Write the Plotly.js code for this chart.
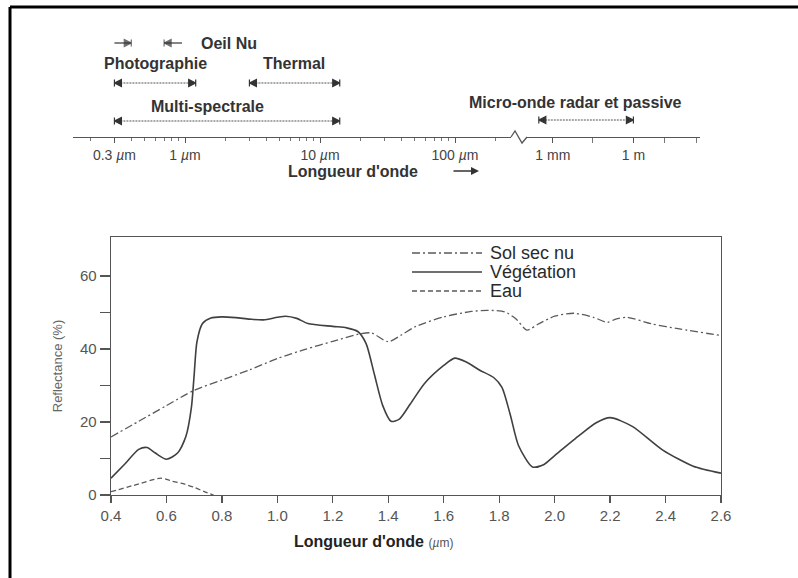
<!DOCTYPE html>
<html>
<head>
<meta charset="utf-8">
<script src="https://cdn.plot.ly/plotly-3.0.1.min.js"></script>
<style>html,body{margin:0;padding:0;background:#fff;}#chart{width:798px;height:578px;}</style>
</head>
<body>
<div id="chart"></div>
<script>
// ---------- data: reflectance spectra ----------
const soilWavelength = [0.40,0.50,0.60,0.70,0.80,0.90,1.00,1.10,1.20,1.30,1.34,1.40,1.45,1.50,1.60,1.70,1.76,1.82,1.86,1.90,1.94,2.00,2.07,2.14,2.19,2.22,2.26,2.35,2.45,2.60];
const soilReflectance = [15.9,20.2,24.5,28.7,31.5,34.3,37.4,39.9,42.1,44.2,44.4,42.0,44.0,46.2,48.8,50.3,50.6,50.2,48.3,45.2,46.8,49.0,49.8,48.7,47.3,48.2,48.7,46.9,45.5,43.7];

const vegWavelength = [0.40,0.45,0.50,0.53,0.56,0.60,0.64,0.67,0.69,0.70,0.71,0.73,0.76,0.80,0.85,0.90,0.95,1.00,1.03,1.07,1.11,1.20,1.25,1.29,1.32,1.35,1.38,1.41,1.44,1.48,1.53,1.60,1.64,1.68,1.73,1.78,1.81,1.84,1.87,1.92,1.96,2.00,2.09,2.15,2.20,2.28,2.39,2.50,2.60];
const vegReflectance = [4.6,8.5,12.5,13.0,11.5,9.8,11.5,16.0,24.0,33.0,42.0,47.0,48.5,48.8,48.6,48.2,48.0,48.7,49.0,48.4,47.0,46.2,45.8,44.8,41.5,33.0,24.5,20.2,20.8,25.0,30.5,35.5,37.5,36.5,34.2,32.2,29.5,22.0,13.5,7.7,8.3,10.8,16.4,19.8,21.2,18.8,12.3,7.9,6.0];

const waterWavelength = [0.40,0.48,0.58,0.62,0.66,0.70,0.74,0.77];
const waterReflectance = [0.9,2.6,4.6,3.8,3.1,2.1,0.8,0.0];

const seriesNames = ['Sol sec nu','Végétation','Eau'];

// ---------- data: spectral domains (µm) ----------
const domainNames = ['Photographie','Thermal','Multi-spectrale','Micro-onde radar et passive'];
const domainStart = [0.3, 3, 0.3, 300];
const domainEnd   = [1.2, 14, 14, 1e6];
const eyeLimits   = [0.4, 0.7];      // Oeil Nu
const eyeStubs    = [0.3, 0.95];     // outer ends of the two half arrows

const scaleTickVals = [0.3, 1, 10, 100];
const scaleTickText = ['0.3 <i>µ</i>m','1 <i>µ</i>m','10 <i>µ</i>m','100 <i>µ</i>m'];
const scaleMinorVals = [0.2,0.4,0.5,0.6,0.7,0.8,0.9,2,3,4,5,6,7,8,9,20,30,40,50,60,70,80,90,200,300];
const scaleTickVals2 = [1e3, 1e6];
const scaleTickText2 = ['1 mm','1 m'];
const scaleMinorVals2 = [30000, 1.5e7, 2.3e8];

// ---------- layout helpers ----------
const W = 798, H = 578;
const px = x => x / W;
const py = y => 1 - y / H;
const FONT = 'Liberation Sans, Arial, sans-serif';
const INK = '#3a3a3a';

// rows of the top diagram (pixels above the scale line)
const rowLevel = {'Photographie':54,'Thermal':54,'Multi-spectrale':16,'Micro-onde radar et passive':17, eye:94};
const domainAxis = {'Photographie':'x2','Thermal':'x2','Multi-spectrale':'x2','Micro-onde radar et passive':'x3'};

const traces = [];
traces.push({x: soilWavelength, y: soilReflectance, name: seriesNames[0], type:'scatter', mode:'lines',
  line:{color:'#5a5a5a', width:1.3, dash:'8px,3px,2px,3px', shape:'spline', smoothing:0.7}, showlegend:false});
traces.push({x: vegWavelength, y: vegReflectance, name: seriesNames[1], type:'scatter', mode:'lines',
  line:{color:'#404040', width:1.6, shape:'spline', smoothing:0.7}, showlegend:false});
traces.push({x: waterWavelength, y: waterReflectance, name: seriesNames[2], type:'scatter', mode:'lines',
  line:{color:'#5a5a5a', width:1.3, dash:'5px,3px', shape:'spline', smoothing:0.6}, showlegend:false});

// spectral domain bars
domainNames.forEach((n,i) => {
  const lvl = rowLevel[n];
  traces.push({x:[domainStart[i], domainEnd[i]], y:[lvl,lvl], xaxis: domainAxis[n], yaxis:'y2',
    type:'scatter', mode:'lines+markers', name:n, showlegend:false, hoverinfo:'skip',
    line:{color:'#555', width:1, dash:'2px,1px'},
    marker:{symbol:['arrow-bar-left','arrow-bar-right'], size:7, color:'#333', line:{color:'#333', width:1.2}}});
});
// Oeil Nu half arrows
traces.push({x:[eyeStubs[0], eyeLimits[0]], y:[rowLevel.eye, rowLevel.eye], xaxis:'x2', yaxis:'y2',
  type:'scatter', mode:'lines+markers', showlegend:false, hoverinfo:'skip',
  line:{color:'#333', width:1.2}, marker:{symbol:['circle','arrow-bar-right'], size:[0,7], color:'#333', line:{color:'#333',width:1.2}}});
traces.push({x:[eyeLimits[1], eyeStubs[1]], y:[rowLevel.eye, rowLevel.eye], xaxis:'x2', yaxis:'y2',
  type:'scatter', mode:'lines+markers', showlegend:false, hoverinfo:'skip',
  line:{color:'#333', width:1.2}, marker:{symbol:['arrow-bar-left','circle'], size:[7,0], color:'#333', line:{color:'#333',width:1.2}}});

const annotations = [];
const topLabel = (text, x, y) => annotations.push({text:'<b>'+text+'</b>', xref:'paper', yref:'paper', x:px(x), y:py(y),
  xanchor:'left', yanchor:'middle', showarrow:false, font:{family:FONT, size:16, color:'#333'}});
topLabel('Oeil Nu', 199, 43);
topLabel(domainNames[0], 102, 63);
topLabel(domainNames[1], 261, 63);
topLabel(domainNames[2], 149, 106);
topLabel(domainNames[3], 467, 102);
topLabel("Longueur d'onde", 286, 171);
annotations.push({text:'', xref:'paper', yref:'paper', x:px(479), y:py(171), ax:-27, ay:0, axref:'pixel', ayref:'pixel',
  showarrow:true, arrowhead:2, arrowsize:1, arrowwidth:1.6, arrowcolor:'#333'});

// main x-axis title
annotations.push({text:"<b>Longueur d'onde</b> <span style='font-size:12px;color:#555'>(<i>µ</i>m)</span>",
  xref:'paper', yref:'paper', x:px(292), y:py(541), xanchor:'left', yanchor:'middle', showarrow:false,
  font:{family:FONT, size:16, color:'#222'}});

// legend (custom, long line samples)
const legendRows = [253, 272, 291];
const legendDash = ['8px,3px,2px,3px', 'solid', '5px,3px'];
const legendColor = ['#5a5a5a', '#404040', '#5a5a5a'];
const shapes = [];
seriesNames.forEach((n,i) => {
  shapes.push({type:'line', xref:'paper', yref:'paper', x0:px(412), x1:px(482), y0:py(legendRows[i]), y1:py(legendRows[i]),
    line:{color:legendColor[i], width:1.3, dash:legendDash[i]}});
  annotations.push({text:n, xref:'paper', yref:'paper', x:px(488), y:py(legendRows[i]), xanchor:'left', yanchor:'middle',
    showarrow:false, font:{family:FONT, size:18, color:'#2a2a2a'}});
});

// zig-zag break on the wavelength scale
shapes.push({type:'path', xref:'paper', yref:'paper',
  path:`M${px(511)},${py(137)} L${px(515)},${py(131)} L${px(522)},${py(143)} L${px(527)},${py(137)}`,
  line:{color:'#555', width:1.3}});
// page frame (top and left edges)
shapes.push({type:'line', xref:'paper', yref:'paper', x0:px(10), x1:1, y0:py(7), y1:py(7), line:{color:'#000', width:3}});
shapes.push({type:'line', xref:'paper', yref:'paper', x0:px(10), x1:px(10), y0:py(7), y1:0, line:{color:'#000', width:3}});

const layout = {
  width:W, height:H, margin:{l:0,r:0,t:0,b:0}, paper_bgcolor:'#fff', plot_bgcolor:'rgba(0,0,0,0)',
  font:{family:FONT, color:INK}, showlegend:false,
  xaxis:{domain:[px(111), px(721)], range:[0.4,2.6], anchor:'y', tickmode:'linear', tick0:0.4, dtick:0.2, tickformat:'.1f',
    showline:true, mirror:true, linecolor:'#555', linewidth:1.3, ticks:'outside', ticklen:7, tickcolor:'#555', tickwidth:1.2,
    showgrid:false, zeroline:false, tickfont:{family:FONT, size:15, color:'#555'}},
  yaxis:{domain:[py(495), py(237)], range:[0,70.7], anchor:'x', tickmode:'array', tickvals:[0,10,20,30,40,50,60],
    ticktext:['0','','20','','40','','60'], showline:true, mirror:true, linecolor:'#555', linewidth:1.3,
    ticks:'outside', ticklen:10, tickcolor:'#555', tickwidth:1.2, showgrid:false, zeroline:false,
    tickfont:{family:FONT, size:15, color:'#555'},
    title:{text:'Reflectance (%)', font:{family:FONT, size:13, color:'#666'}, standoff:14}},
  xaxis2:{type:'log', domain:[px(73), px(511)], range:[Math.log10(0.148), Math.log10(0.148)+(511-73)/135], anchor:'y2',
    tickmode:'array', tickvals:scaleTickVals, ticktext:scaleTickText, showline:true, linecolor:'#555', linewidth:1.3,
    ticks:'outside', ticklen:5, tickcolor:'#555', showgrid:false, zeroline:false,
    minor:{tickvals:scaleMinorVals, ticks:'outside', ticklen:3, tickcolor:'#777', showgrid:false},
    tickfont:{family:FONT, size:14, color:'#444'}},
  xaxis3:{type:'log', domain:[px(527), px(700)], range:[2.037, 8.48], anchor:'y2',
    tickmode:'array', tickvals:scaleTickVals2, ticktext:scaleTickText2, showline:true, linecolor:'#555', linewidth:1.3,
    ticks:'outside', ticklen:5, tickcolor:'#555', showgrid:false, zeroline:false,
    minor:{tickvals:scaleMinorVals2, ticks:'outside', ticklen:5, tickcolor:'#777', showgrid:false},
    tickfont:{family:FONT, size:14, color:'#444'}},
  yaxis2:{domain:[py(137), 1], range:[0,137], anchor:'x2', visible:false, fixedrange:true},
  annotations, shapes
};

Plotly.newPlot('chart', traces, layout, {displayModeBar:false, staticPlot:true});
</script>
</body>
</html>
